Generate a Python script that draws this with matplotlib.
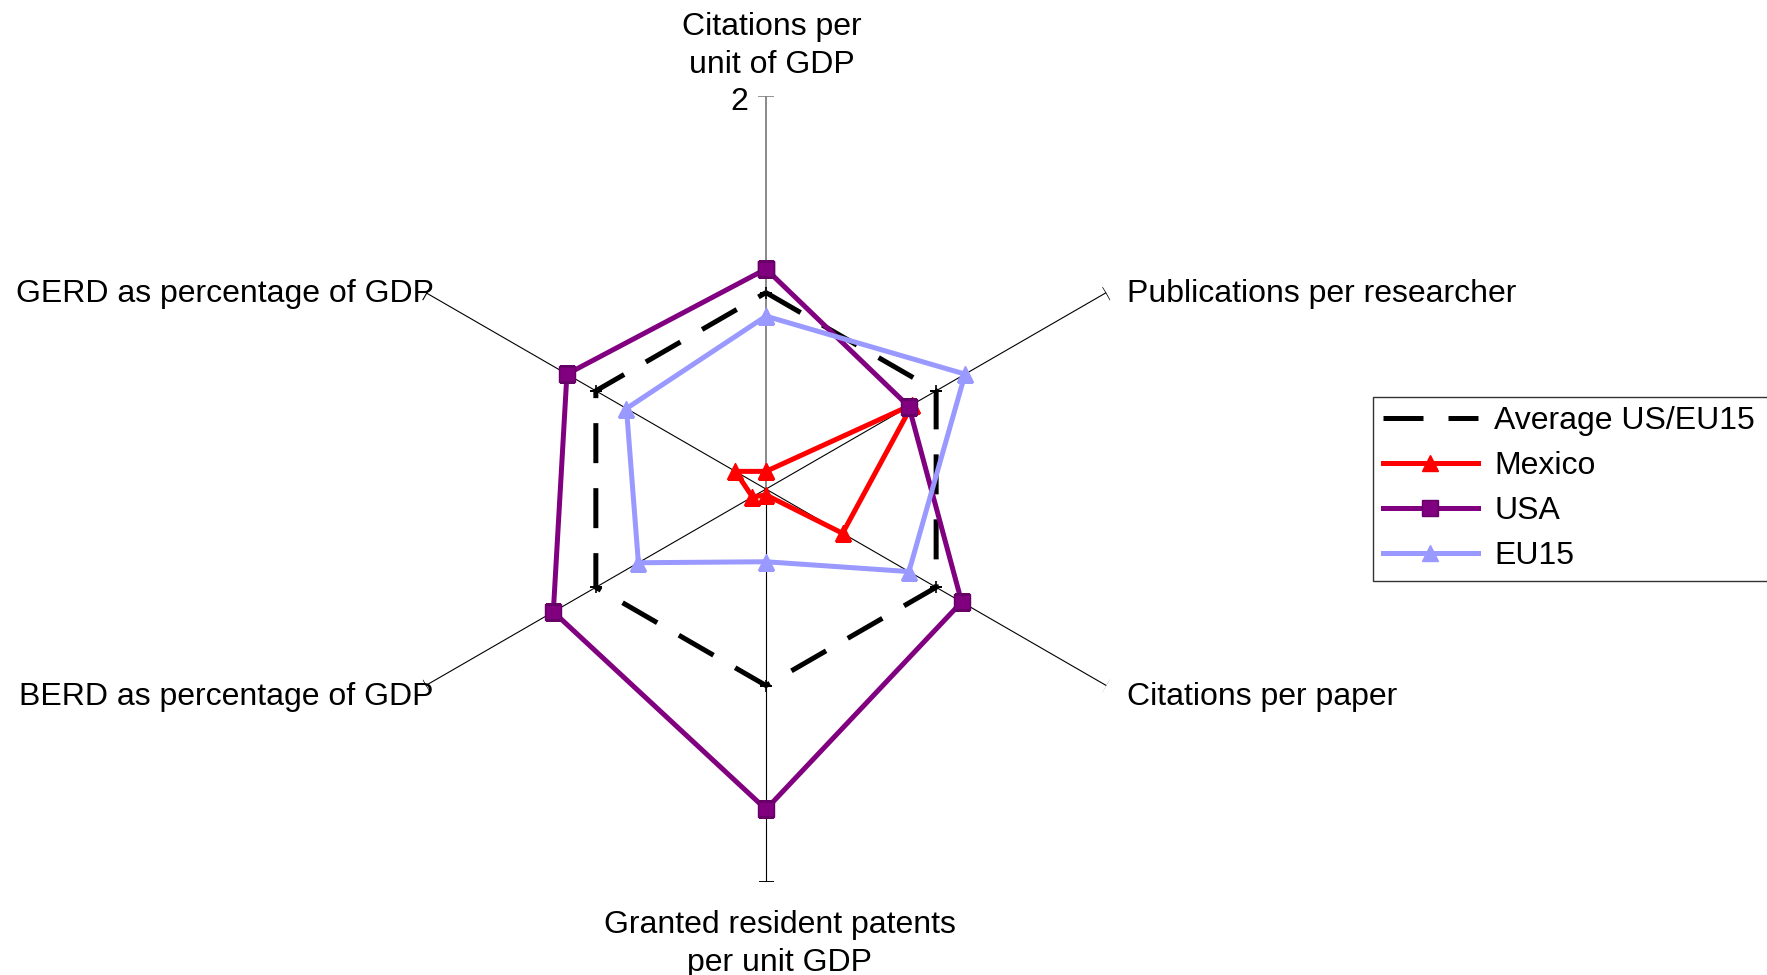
import numpy as np
import matplotlib.pyplot as plt

plt.rcParams['font.family'] = ['Liberation Sans', 'DejaVu Sans']

# axes of the radar, clockwise from the top
categories = ['Citations per\nunit of GDP', 'Publications per researcher',
              'Citations per paper', 'Granted resident patents\nper unit GDP',
              'BERD as percentage of GDP', 'GERD as percentage of GDP']
average = [1.0, 1.0, 1.0, 1.0, 1.0, 1.0]
mexico = [0.09, 0.86, 0.45, 0.03, 0.08, 0.18]
usa = [1.12, 0.84, 1.15, 1.63, 1.25, 1.17]
eu15 = [0.88, 1.17, 0.84, 0.37, 0.75, 0.82]
r_max = 2

# label offsets in pixels from the end of each spoke
label_offsets = [(6, 50), (21, -1), (21, -11), (14, -62), (8, -11), (8, -1)]
label_ha = ['center', 'left', 'left', 'center', 'right', 'right']


def closed(vals):
    return list(vals) + [vals[0]]


fig = plt.figure(figsize=(17.67, 9.75), dpi=100)
ax = fig.add_axes([0.2111, 0.0954, 0.4448, 0.806], projection='polar')
ax.set_theta_zero_location('N')
ax.set_theta_direction(-1)
ax.set_ylim(0, r_max)
ax.grid(False)
ax.set_xticks([])
ax.set_yticks([])
ax.spines['polar'].set_visible(False)

n = len(categories)
theta = np.deg2rad(np.arange(n) * 360.0 / n)
th = closed(theta)

# spokes with a small tick across each end
for i, t in enumerate(theta):
    col = '#808080' if i == 0 else 'black'
    lw = 1.3 if i == 0 else 0.8
    ax.plot([t, t], [0, r_max], color=col, lw=lw, zorder=1)
    ang = 90 - np.rad2deg(t)
    ax.plot([t], [r_max], marker=(2, 0, ang), markersize=11, color=col,
            markeredgewidth=lw, zorder=1)

ax.plot(th, closed(average), color='black', lw=3.6, dashes=(8, 5),
        label='Average US/EU15', zorder=3)
ax.plot(theta, average, ls='none', color='black', marker='+', markersize=8,
        markeredgewidth=1.2, zorder=3)
ax.plot(th, closed(mexico), color='#FF0000', lw=3.6, marker='^', markersize=12,
        label='Mexico', zorder=4)
ax.plot(th, closed(usa), color='#800080', lw=3.6, marker='s', markersize=11,
        markeredgecolor='#660066', label='USA', zorder=5)
ax.plot(th, closed(eu15), color='#9999FF', lw=3.6, marker='^', markersize=12,
        label='EU15', zorder=6)

for t, lab, off, ha in zip(theta, categories, label_offsets, label_ha):
    ax.annotate(lab, xy=(t, r_max), xytext=off, textcoords='offset pixels',
                ha=ha, va='center', fontsize=23, linespacing=1.32,
                annotation_clip=False)

ax.annotate('2', xy=(0, r_max), xytext=(-18, -6), textcoords='offset pixels',
            ha='right', va='center', fontsize=23, annotation_clip=False)

leg = ax.legend(loc='upper left', bbox_to_anchor=(0.777, 0.405, 0.26, 0.188),
                bbox_transform=fig.transFigure, mode='expand', fontsize=23,
                frameon=True, fancybox=False, edgecolor='black',
                handlelength=3.0, labelspacing=0.47, borderpad=0.3,
                handletextpad=0.5, borderaxespad=0)
leg.get_frame().set_linewidth(1.0)

fig.savefig('out.png', dpi=100)
